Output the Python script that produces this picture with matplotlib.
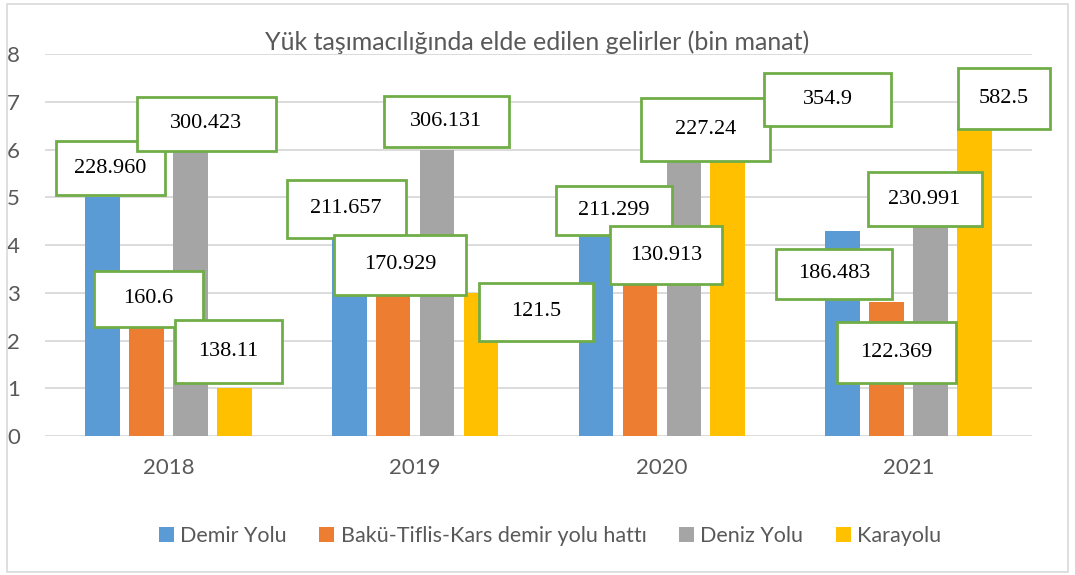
import matplotlib
matplotlib.use("Agg")
import matplotlib.pyplot as plt
import numpy as np
from matplotlib.patches import Rectangle
from matplotlib.transforms import IdentityTransform

plt.rcParams['font.family'] = ['Lato', 'DejaVu Sans']

# dados do grafico
anos = ['2018', '2019', '2020', '2021']
series = ['Demir Yolu', 'Bakü-Tiflis-Kars demir yolu hattı', 'Deniz Yolu', 'Karayolu']
cores = ['#5B9BD5', '#ED7D31', '#A5A5A5', '#FFC000']

demir_yolu = [5.0, 4.2, 4.2, 4.3]
btk = [2.5, 3.0, 3.2, 2.8]
deniz_yolu = [6.0, 6.0, 6.0, 4.5]
karayolu = [1.0, 3.0, 6.0, 6.5]

# rotulos (bin manat) escritos nas caixas
rot_demir = ['228.960', '211.657', '211.299', '186.483']
rot_btk = ['160.6', '170.929', '130.913', '122.369']
rot_deniz = ['300.423', '306.131', '227.24', '230.991']
rot_kara = ['138.11', '121.5', '354.9', '582.5']

alturas = [demir_yolu, btk, deniz_yolu, karayolu]
rotulos = [rot_demir, rot_btk, rot_deniz, rot_kara]

# deslocamento das caixas em relacao ao topo da barra (px): dx, dy, largura, altura
caixas = [
    [(8, 29, 109, 54), (-3, 27, 119, 58), (18, 25, 116, 49), (-9, -43, 116, 50)],
    [(2, 18, 109, 56), (7, 28, 132, 60), (26, 28, 112, 58), (10, -50, 119, 61)],
    [(16, 26, 139, 54), (9, 28, 125, 51), (22, 20, 129, 63), (-6, 22, 114, 54)],
    [(-6, 37, 107, 63), (55, -19, 114, 58), (100, 50, 127, 53), (29, 27, 92, 61)],
]

fig = plt.figure(figsize=(10.75, 5.75), dpi=100)
ax = fig.add_axes([45 / 1075, 1 - 436 / 575, 987 / 1075, (436 - 54.3) / 575])

x = np.arange(len(anos))
largura = 0.14
passo = 0.178
for j in range(4):
    ax.bar(x + (j - 1.5) * passo, alturas[j], width=largura, color=cores[j],
           label=series[j], zorder=3)

ax.set_xlim(-0.5, 3.5)
ax.set_ylim(0, 8)
ax.set_yticks(range(0, 9))
ax.set_xticks(x)
ax.set_xticklabels(anos)
ax.grid(axis='y', color='#D9D9D9', linewidth=1.3, zorder=0)
ax.set_axisbelow(True)
for s in ax.spines.values():
    s.set_visible(False)
ax.tick_params(axis='y', length=0, pad=18, labelsize=16, labelcolor='#595959')
ax.tick_params(axis='x', length=0, pad=16, labelsize=16, labelcolor='#595959')

fig.text(537 / 1075, 1 - 42 / 575, 'Yük taşımacılığında elde edilen gelirler (bin manat)',
         ha='center', va='center', fontsize=18, color='#595959')

# caixas de rotulo
for j in range(4):
    for i in range(4):
        dx, dy, w, h = caixas[j][i]
        px, py = ax.transData.transform((x[i] + (j - 1.5) * passo, alturas[j][i]))
        cx, cy = px + dx, py + dy
        fig.add_artist(Rectangle((cx - w / 2, cy - h / 2), w, h, transform=IdentityTransform(),
                                 facecolor='white', edgecolor='#70AD47', linewidth=2, zorder=5))
        fig.text(cx, cy, rotulos[j][i], transform=IdentityTransform(), ha='center', va='center',
                 fontsize=16, family='Liberation Serif', color='black', zorder=6)

fig.legend(loc='center', bbox_to_anchor=(550 / 1075, 1 - 536 / 575), ncol=4, frameon=False,
           fontsize=15.5, handlelength=0.7, handleheight=0.7, handletextpad=0.3,
           columnspacing=1.5, labelcolor='#595959')

# moldura externa
fig.add_artist(Rectangle((7 / 1075, 3 / 575), 1061 / 1075, 568 / 575, transform=fig.transFigure,
                         fill=False, edgecolor='#D9D9D9', linewidth=1.2))

fig.savefig('out.png', dpi=100)
